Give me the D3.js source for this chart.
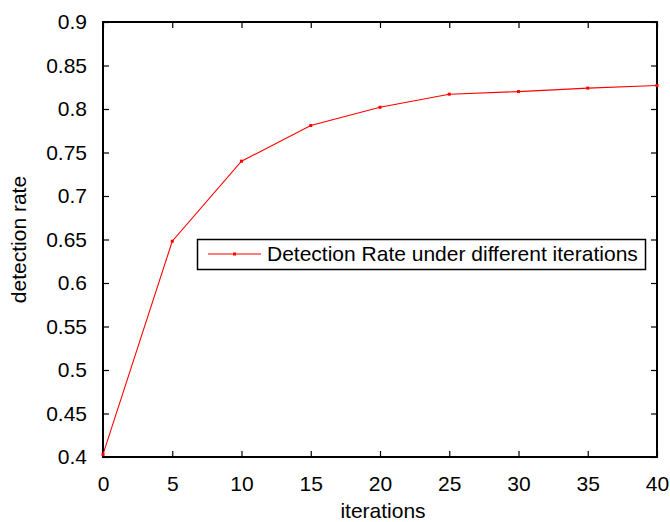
<!DOCTYPE html>
<html><head><meta charset="utf-8">
<script src="https://cdn.jsdelivr.net/npm/d3@7"></script>
<style>body{margin:0;background:#fff}svg{display:block}text{font-family:"Liberation Sans",Arial,sans-serif}</style>
</head><body>
<svg id="c" width="670" height="522"></svg>
<script>
const iterations = [0, 5, 10, 15, 20, 25, 30, 35, 40];
const detectionRate = [0.403, 0.648, 0.740, 0.781, 0.802, 0.817, 0.820, 0.824, 0.827];
const xTicks = [0, 5, 10, 15, 20, 25, 30, 35, 40];
const yTicks = [0.4, 0.45, 0.5, 0.55, 0.6, 0.65, 0.7, 0.75, 0.8, 0.85, 0.9];
const seriesName = "Detection Rate under different iterations";

const svg = d3.select("#c");
const L = 103, R = 657, T = 22, B = 457;
const x = d3.scaleLinear().domain([0, 40]).range([L, R]);
const y = d3.scaleLinear().domain([0.4, 0.9]).range([B, T]);
const fs = 21, tl = 6;

const gb = svg.append("g").attr("transform", `translate(0,${B})`)
  .call(d3.axisBottom(x).tickValues(xTicks).tickSize(-tl).tickPadding(13).tickFormat(d3.format("d")));
const gt = svg.append("g").attr("transform", `translate(0,${T})`)
  .call(d3.axisTop(x).tickValues(xTicks).tickSize(-tl).tickFormat(""));
const gl = svg.append("g").attr("transform", `translate(${L},0)`)
  .call(d3.axisLeft(y).tickValues(yTicks).tickSize(-tl).tickPadding(16).tickFormat(d => String(+d.toFixed(2))));
const gr = svg.append("g").attr("transform", `translate(${R},0)`)
  .call(d3.axisRight(y).tickValues(yTicks).tickSize(-tl).tickFormat(""));
[gb, gt, gl, gr].forEach(g => {
  g.select(".domain").remove();
  g.selectAll(".tick line").attr("stroke", "#000").attr("stroke-width", 1.2);
  g.selectAll("text").attr("font-size", fs).attr("fill", "#000")
    .attr("font-family", '"Liberation Sans",Arial,sans-serif');
});
gb.selectAll("text").attr("dy", null).attr("y", 34);
svg.append("rect").attr("x", L).attr("y", T).attr("width", R - L).attr("height", B - T)
  .attr("fill", "none").attr("stroke", "#000").attr("stroke-width", 2);

svg.append("text").attr("x", 383).attr("y", 518).attr("text-anchor", "middle")
  .attr("font-size", fs).text("iterations");
svg.append("text").attr("transform", `translate(26,${(T + B) / 2}) rotate(-90)`)
  .attr("text-anchor", "middle").attr("font-size", fs).text("detection rate");

const data = iterations.map((d, i) => ({x: d, y: detectionRate[i]}));
svg.append("path").datum(data).attr("fill", "none").attr("stroke", "#ff0000").attr("stroke-width", 1.1)
  .attr("d", d3.line().x(d => x(d.x)).y(d => y(d.y)));
svg.selectAll(".pt").data(data).enter().append("rect")
  .attr("x", d => x(d.x) - 1.5).attr("y", d => y(d.y) - 1.5).attr("width", 3).attr("height", 3).attr("fill", "#ff0000");

const lg = svg.append("g");
lg.append("rect").attr("x", 197.5).attr("y", 239.5).attr("width", 448).attr("height", 30)
  .attr("fill", "#fff").attr("stroke", "#000").attr("stroke-width", 1.5);
lg.append("line").attr("x1", 208).attr("x2", 261).attr("y1", 254).attr("y2", 254)
  .attr("stroke", "#ff0000").attr("stroke-width", 1.1);
lg.append("rect").attr("x", 233).attr("y", 252.5).attr("width", 3).attr("height", 3).attr("fill", "#ff0000");
lg.append("text").attr("x", 267).attr("y", 261).attr("font-size", fs).text(seriesName);
</script>
</body></html>
